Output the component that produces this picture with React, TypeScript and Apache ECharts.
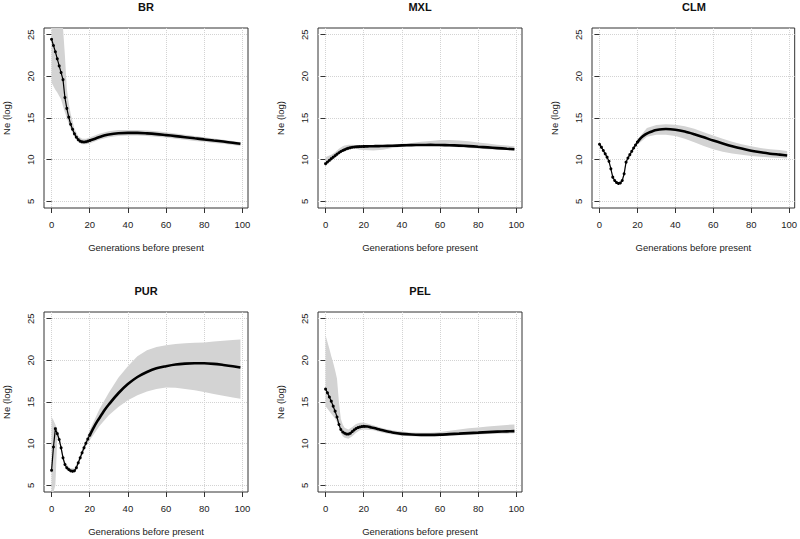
import React, { useEffect, useRef } from "react";
import * as echarts from "echarts";

// Generations at which the mean curve was read
const GENS = [0, 1, 2, 3, 4, 5, 6, 7, 8, 9, 10, 11, 12, 13, 14, 15, 16, 17, 18, 19, 20,
  22, 24, 26, 28, 30, 35, 40, 45, 50, 55, 60, 65, 70, 75, 80, 85, 90, 95, 99];
// Generations at which the confidence band was read
const BAND_GENS = [0, 1, 2, 3, 4, 5, 6, 7, 8, 9, 10, 12, 14, 16, 18, 20,
  25, 30, 35, 40, 45, 50, 55, 60, 65, 70, 75, 80, 85, 90, 95, 99];

const X_TICKS = [0, 20, 40, 60, 80, 100];
const Y_TICKS = [5, 10, 15, 20, 25];

const BR_NE = [24.45, 23.7, 22.95, 22.1, 21.25, 20.45, 19.6, 17.45, 16.15, 15.1, 14.25, 13.65, 13.1, 12.7, 12.4, 12.22, 12.14, 12.12, 12.15, 12.22, 12.3,
  12.45, 12.62, 12.78, 12.92, 13.03, 13.17, 13.22, 13.22, 13.16, 13.07, 12.95, 12.83, 12.7, 12.56, 12.43, 12.3, 12.17, 12.02, 11.9];
const BR_HI = [28, 28, 28, 28, 27.5, 27, 26.2, 22.5, 18.5, 16.8, 15.5, 13.7, 12.8, 12.5, 12.5, 12.65,
  13.1, 13.4, 13.55, 13.55, 13.55, 13.5, 13.4, 13.3, 13.15, 13.0, 12.85, 12.7, 12.55, 12.4, 12.25, 12.1];
const BR_LO = [19.25, 18.8, 18.4, 18.05, 17.65, 17.25, 16.4, 15.7, 15.0, 14.3, 13.7, 12.7, 12.1, 11.85, 11.85, 11.95,
  12.4, 12.7, 12.85, 12.9, 12.9, 12.85, 12.75, 12.65, 12.5, 12.4, 12.25, 12.15, 12.0, 11.9, 11.75, 11.65];

const MXL_NE = [9.52, 9.72, 9.92, 10.12, 10.3, 10.48, 10.66, 10.83, 10.98, 11.1, 11.2, 11.3, 11.38, 11.44, 11.49, 11.52, 11.54, 11.56, 11.57, 11.58, 11.59,
  11.6, 11.61, 11.62, 11.63, 11.64, 11.67, 11.71, 11.74, 11.76, 11.77, 11.76, 11.73, 11.69, 11.63, 11.55, 11.47, 11.39, 11.31, 11.25];
const MXL_HI = [10.3, 10.4, 10.5, 10.6, 10.75, 10.9, 11.1, 11.3, 11.45, 11.6, 11.7, 11.8, 11.8, 11.75, 11.7, 11.7,
  11.7, 11.75, 11.8, 11.9, 12.0, 12.15, 12.25, 12.35, 12.35, 12.3, 12.2, 12.05, 11.95, 11.8, 11.7, 11.6];
const MXL_LO = [9.2, 9.45, 9.65, 9.85, 10.05, 10.25, 10.45, 10.65, 10.8, 10.95, 11.05, 11.25, 11.35, 11.3, 11.2, 11.15,
  11.1, 11.2, 11.4, 11.55, 11.6, 11.65, 11.65, 11.6, 11.55, 11.5, 11.4, 11.35, 11.25, 11.2, 11.15, 11.1];

const CLM_NE = [11.85, 11.5, 11.1, 10.7, 10.3, 9.8, 8.9, 7.9, 7.5, 7.25, 7.15, 7.2, 7.5, 8.3, 9.7, 10.2, 10.6, 11.0, 11.4, 11.75, 12.1,
  12.65, 13.0, 13.25, 13.42, 13.55, 13.68, 13.6, 13.38, 13.05, 12.68, 12.3, 11.95, 11.62, 11.33, 11.08, 10.88, 10.72, 10.6, 10.5];
const CLM_HI = [12.0, 11.65, 11.25, 10.85, 10.45, 9.95, 9.05, 8.05, 7.65, 7.4, 7.3, 7.65, 9.95, 10.8, 11.65, 12.4,
  13.8, 14.15, 14.25, 14.2, 14.0, 13.7, 13.3, 12.9, 12.5, 12.15, 11.85, 11.6, 11.4, 11.25, 11.15, 11.05];
const CLM_LO = [11.7, 11.35, 10.95, 10.55, 10.15, 9.65, 8.75, 7.75, 7.35, 7.1, 7.0, 7.35, 9.65, 10.4, 11.15, 11.8,
  12.75, 13.0, 13.0, 12.85, 12.5, 12.1, 11.65, 11.25, 10.95, 10.75, 10.6, 10.45, 10.35, 10.25, 10.2, 10.15];

const PUR_NE = [6.8, 9.6, 11.8, 11.2, 10.5, 9.5, 8.3, 7.5, 7.1, 6.9, 6.75, 6.7, 6.75, 7.1, 7.7, 8.3, 8.9, 9.5, 10.05, 10.55, 11.0,
  11.9, 12.7, 13.4, 14.1, 14.7, 16.05, 17.15, 18.0, 18.6, 19.05, 19.3, 19.5, 19.6, 19.65, 19.65, 19.58, 19.45, 19.3, 19.15];
const PUR_HI = [13.2, 12.8, 12.3, 11.7, 11.0, 10.0, 8.8, 7.9, 7.5, 7.2, 7.05, 7.05, 8.0, 9.3, 10.5, 11.6,
  14.1, 16.1, 17.9, 19.3, 20.5, 21.2, 21.6, 21.8, 21.95, 22.05, 22.1, 22.15, 22.25, 22.35, 22.45, 22.5];
const PUR_LO = [2.0, 3.0, 5.0, 10.8, 10.2, 9.2, 8.0, 7.2, 6.9, 6.65, 6.5, 6.5, 7.5, 8.6, 9.7, 10.4,
  12.1, 13.4, 14.4, 15.2, 15.8, 16.25, 16.55, 16.75, 16.7, 16.55, 16.4, 16.2, 15.95, 15.75, 15.55, 15.4];

const PEL_NE = [16.55, 16.1, 15.6, 15.1, 14.5, 13.9, 13.2, 12.3, 11.7, 11.4, 11.25, 11.15, 11.15, 11.25, 11.45, 11.65, 11.82, 11.93, 12.0, 12.05, 12.08,
  12.05, 11.95, 11.85, 11.72, 11.6, 11.35, 11.18, 11.1, 11.06, 11.05, 11.08, 11.14, 11.2, 11.27, 11.33, 11.39, 11.44, 11.48, 11.5];
const PEL_HI = [23.0, 22.2, 21.4, 20.5, 19.7, 18.8, 17.8, 15.0, 13.0, 12.3, 11.9, 11.7, 12.0, 12.35, 12.5, 12.55,
  12.2, 11.85, 11.6, 11.45, 11.35, 11.3, 11.3, 11.4, 11.55, 11.7, 11.85, 11.95, 12.05, 12.15, 12.25, 12.3];
const PEL_LO = [14.5, 14.2, 13.9, 13.6, 13.3, 13.0, 12.6, 12.0, 11.3, 10.9, 10.7, 10.6, 10.9, 11.3, 11.6, 11.7,
  11.6, 11.3, 11.1, 10.95, 10.9, 10.85, 10.85, 10.9, 10.95, 11.0, 11.05, 11.1, 11.15, 11.2, 11.2, 11.25];

const POPS = [
  { title: "BR", ne: BR_NE, hi: BR_HI, lo: BR_LO },
  { title: "MXL", ne: MXL_NE, hi: MXL_HI, lo: MXL_LO },
  { title: "CLM", ne: CLM_NE, hi: CLM_HI, lo: CLM_LO },
  { title: "PUR", ne: PUR_NE, hi: PUR_HI, lo: PUR_LO },
  { title: "PEL", ne: PEL_NE, hi: PEL_HI, lo: PEL_LO },
];

// panel layout (pixels)
const LAYOUT = [
  { left: 44, top: 28 },
  { left: 318, top: 28 },
  { left: 592, top: 28 },
  { left: 44, top: 312 },
  { left: 318, top: 312 },
];
const PW = 204;
const PH = 180;
const FONT = "'Liberation Sans', Arial, Helvetica, sans-serif";
const EARLY_END = 20;

export default function App() {
  const ref = useRef<HTMLDivElement>(null);
  useEffect(() => {
    if (!ref.current) return;
    const chart = echarts.init(ref.current, null, { renderer: "svg" });
    const grids: any[] = [];
    const xAxes: any[] = [];
    const yAxes: any[] = [];
    const titles: any[] = [];
    const series: any[] = [];
    POPS.forEach((p, i) => {
      const L = LAYOUT[i];
      grids.push({
        left: L.left, top: L.top, width: PW, height: PH,
        show: true, borderColor: "#333", borderWidth: 1, backgroundColor: "transparent",
      });
      titles.push({
        text: p.title, left: L.left + PW / 2, top: L.top - 27, textAlign: "center", padding: 0,
        textStyle: { fontFamily: FONT, fontSize: 11, fontWeight: "bold", color: "#111" },
      });
      xAxes.push({
        gridIndex: i, type: "value", min: -3.96, max: 102.96,
        name: "Generations before present", nameLocation: "middle", nameGap: 34,
        nameTextStyle: { fontFamily: FONT, fontSize: 9.5, color: "#222" },
        axisLine: { show: false },
        axisTick: { show: true, length: 5, customValues: X_TICKS, lineStyle: { color: "#333" } },
        axisLabel: { customValues: X_TICKS, margin: 11, fontFamily: FONT, fontSize: 9.5, color: "#222" },
        splitLine: { show: true, lineStyle: { color: "#d3d3d3", type: "dotted", width: 1 } },
      });
      yAxes.push({
        gridIndex: i, type: "value", min: 4.2, max: 25.8,
        name: "Ne (log)", nameLocation: "middle", nameGap: 33,
        nameTextStyle: { fontFamily: FONT, fontSize: 9.5, color: "#222" },
        axisLine: { show: false },
        axisTick: { show: true, length: 5, customValues: Y_TICKS, lineStyle: { color: "#333" } },
        axisLabel: { customValues: Y_TICKS, rotate: 90, margin: 9, fontFamily: FONT, fontSize: 9.5, color: "#222" },
        splitLine: { show: true, lineStyle: { color: "#d3d3d3", type: "dotted", width: 1 } },
      });
      const hi = p.hi;
      const lo = p.lo;
      series.push({
        type: "custom", xAxisIndex: i, yAxisIndex: i, silent: true, z: 1,
        data: [[0, 0]],
        renderItem: (params: any, api: any) => {
          const cs = params.coordSys;
          const cy = (y: number) => Math.max(cs.y, Math.min(cs.y + cs.height, y));
          const pts: number[][] = [];
          for (let k = 0; k < BAND_GENS.length; k++) {
            const c = api.coord([BAND_GENS[k], hi[k]]);
            pts.push([c[0], cy(c[1])]);
          }
          for (let k = BAND_GENS.length - 1; k >= 0; k--) {
            const c = api.coord([BAND_GENS[k], lo[k]]);
            pts.push([c[0], cy(c[1])]);
          }
          return { type: "polygon", shape: { points: pts }, style: { fill: "#d3d3d3", stroke: null } };
        },
      });
      const pairs = GENS.map((g, k) => [g, p.ne[k]]);
      const early = pairs.filter((d) => d[0] <= EARLY_END);
      const late = pairs.filter((d) => d[0] >= EARLY_END);
      series.push({
        type: "line", xAxisIndex: i, yAxisIndex: i, z: 3, data: early,
        symbol: "circle", symbolSize: 3, showSymbol: true,
        lineStyle: { color: "#000", width: 1.2 }, itemStyle: { color: "#000" },
      });
      series.push({
        type: "line", xAxisIndex: i, yAxisIndex: i, z: 3, data: late, smooth: 0.3,
        showSymbol: false, symbol: "none",
        lineStyle: { color: "#000", width: 2.6 },
      });
    });
    chart.setOption({
      animation: false,
      backgroundColor: "#fff",
      title: titles,
      grid: grids,
      xAxis: xAxes,
      yAxis: yAxes,
      series,
    });
    return () => chart.dispose();
  }, []);
  return <div ref={ref} style={{ position: "absolute", left: 0, top: 0, width: 800, height: 539 }} />;
}
